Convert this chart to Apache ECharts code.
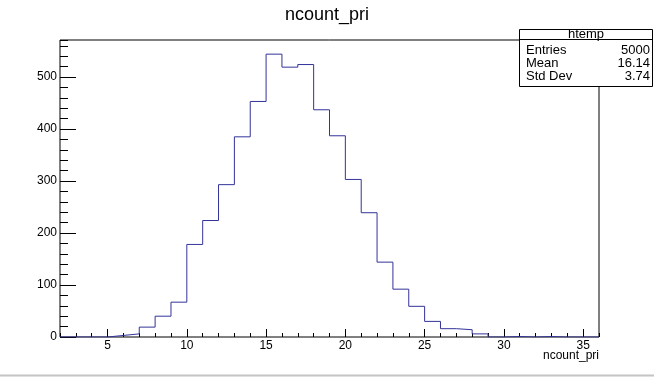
<!DOCTYPE html>
<html>
<head>
<meta charset="utf-8">
<script src="https://cdn.jsdelivr.net/npm/echarts@6/dist/echarts.min.js"></script>
<style>
  html, body { margin: 0; padding: 0; background: #fff; }
  #chart { width: 654px; height: 377px; }
</style>
</head>
<body>
<div id="chart"></div>
<script>
// Histogram of ncount_pri: unit-width bins from 2 to 36
const binLow = [2, 3, 4, 5, 6, 7, 8, 9, 10, 11, 12, 13, 14, 15, 16, 17, 18,
                19, 20, 21, 22, 23, 24, 25, 26, 27, 28, 29, 30, 31, 32, 33, 34, 35];
const counts = [0, 0, 0, 3, 6, 19, 40, 67, 178, 224, 293, 385, 453, 544, 519, 524, 437,
                387, 303, 239, 144, 92, 59, 30, 16, 14, 6, 0, 1, 0, 1, 0, 0, 0];
const xRange = [2, 36];
const xMajorTicks = [5, 10, 15, 20, 25, 30, 35];
const yMajorTicks = [0, 100, 200, 300, 400, 500];
const statLabels = ['Entries', 'Mean', 'Std Dev'];
const statValues = ['5000', '16.14', '3.74'];
const histName = 'htemp';
const varName = 'ncount_pri';

const FONT = 'Liberation Sans, Arial, Helvetica, sans-serif';
const yMax = Math.max(...counts) * 1.05;

// Step outline points: each bin's left edge with its count, closed at the last edge
const stepData = binLow.map((x, i) => [x, counts[i]]);
stepData.push([xRange[1], counts[counts.length - 1]]);

const chart = echarts.init(document.getElementById('chart'), null, { renderer: 'canvas' });

const tickStyle = { color: '#000', width: 1 };

// Stats box graphics
const boxX = 519.5, boxY = 29.5, boxW = 133, boxH = 57;
const statElems = [
  { type: 'rect', shape: { x: boxX, y: boxY, width: boxW, height: boxH },
    style: { fill: '#fff', stroke: '#000', lineWidth: 1 } },
  { type: 'line', shape: { x1: boxX, y1: 39.5, x2: boxX + boxW, y2: 39.5 },
    style: { stroke: '#000', lineWidth: 1 } },
  { type: 'text', x: boxX + boxW / 2, y: 34.5,
    style: { text: histName, font: '13px ' + FONT, fill: '#000', align: 'center', verticalAlign: 'middle' } }
];
const rowY = [50.5, 63.5, 76.5];
statLabels.forEach((lab, i) => {
  statElems.push({ type: 'text', x: 526, y: rowY[i],
    style: { text: lab, font: '13px ' + FONT, fill: '#000', align: 'left', verticalAlign: 'middle' } });
  statElems.push({ type: 'text', x: 650, y: rowY[i],
    style: { text: statValues[i], font: '13px ' + FONT, fill: '#000', align: 'right', verticalAlign: 'middle' } });
});

chart.setOption({
  animation: false,
  backgroundColor: '#fff',
  textStyle: { fontFamily: FONT },
  title: [
    {
      text: varName,
      left: 'center',
      top: 6,
      padding: 0,
      textStyle: { fontFamily: FONT, fontSize: 18, fontWeight: 'normal', color: '#000' }
    },
    {
      // x-axis title, right-aligned under the axis end
      text: varName,
      right: 55,
      top: 350,
      padding: 0,
      textStyle: { fontFamily: FONT, fontSize: 12, fontWeight: 'normal', color: '#000' }
    }
  ],
  grid: {
    left: 60, top: 40, width: 539, height: 297,
    show: true, borderColor: '#000', borderWidth: 1, backgroundColor: 'transparent'
  },
  xAxis: [
    {
      // minor ticks every unit
      type: 'value', min: xRange[0], max: xRange[1], interval: 1, position: 'bottom',
      axisLine: { show: false },
      axisTick: { show: true, inside: true, length: 4, lineStyle: tickStyle },
      axisLabel: { show: false },
      splitLine: { show: false }
    },
    {
      // major ticks and labels
      type: 'value', min: xRange[0], max: xRange[1], position: 'bottom',
      axisLine: { show: false },
      axisTick: { show: true, inside: true, length: 8, lineStyle: tickStyle, customValues: xMajorTicks },
      axisLabel: { show: true, customValues: xMajorTicks, fontSize: 12, color: '#000', margin: 3, fontFamily: FONT },
      splitLine: { show: false }
    }
  ],
  yAxis: [
    {
      type: 'value', min: 0, max: yMax, interval: 20,
      axisLine: { show: false },
      axisTick: { show: true, inside: true, length: 8, lineStyle: tickStyle },
      axisLabel: { show: false },
      splitLine: { show: false }
    },
    {
      type: 'value', min: 0, max: yMax, position: 'left',
      axisLine: { show: false },
      axisTick: { show: true, inside: true, length: 16, lineStyle: tickStyle, customValues: yMajorTicks },
      axisLabel: { show: true, customValues: yMajorTicks, fontSize: 12, color: '#000', margin: 3, fontFamily: FONT },
      splitLine: { show: false }
    }
  ],
  series: [
    {
      type: 'line',
      xAxisIndex: 0,
      yAxisIndex: 0,
      step: 'end',
      data: stepData,
      showSymbol: false,
      symbol: 'none',
      lineStyle: { color: '#333399', width: 1 },
      z: 3
    }
  ],
  graphic: [
    { type: 'group', z: 100, children: statElems },
    { type: 'line', z: 100, shape: { x1: 0, y1: 375.5, x2: 654, y2: 375.5 },
      style: { stroke: '#c4c4c4', lineWidth: 2 } }
  ]
});
</script>
</body>
</html>
